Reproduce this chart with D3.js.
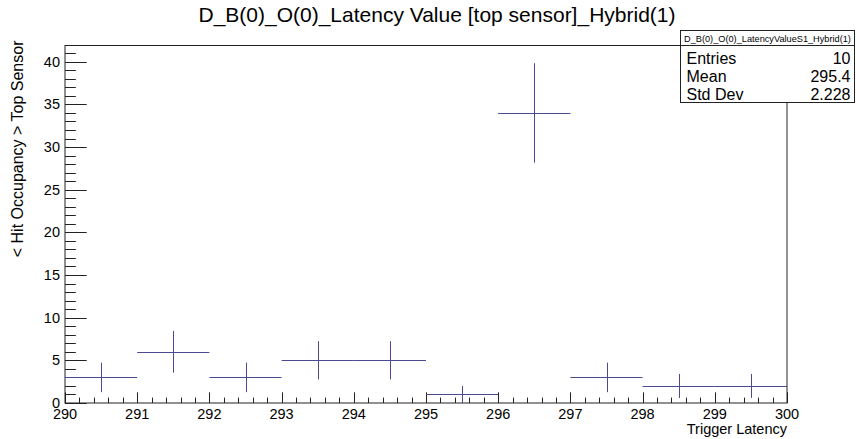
<!DOCTYPE html>
<html>
<head>
<meta charset="utf-8">
<script src="https://cdn.jsdelivr.net/npm/d3@7"></script>
<style>
html,body{margin:0;padding:0;background:#fff;}
svg{display:block;font-family:"Liberation Sans",Arial,Helvetica,sans-serif;}
</style>
</head>
<body>
<svg id="c" width="856" height="439"></svg>
<script>
const binLow = [290,291,292,293,294,295,296,297,298,299];
const binHigh = [291,292,293,294,295,296,297,298,299,300];
const values = [3,6,3,5,5,1,34,3,2,2];
const errors = [1.73,2.45,1.73,2.24,2.24,1.0,5.83,1.73,1.41,1.41];
const xTicks = [290,291,292,293,294,295,296,297,298,299,300];
const yTicks = [0,5,10,15,20,25,30,35,40];
const statsLabels = ["Entries","Mean","Std Dev"];
const statsValues = ["10","295.4","2.228"];
const titleText = "D_B(0)_O(0)_Latency Value [top sensor]_Hybrid(1)";
const statsName = "D_B(0)_O(0)_LatencyValueS1_Hybrid(1)";

const svg = d3.select("#c");
const L=65, R=787, T=45.5, B=403;
const x = d3.scaleLinear().domain([290,300]).range([L,R]);
const y = d3.scaleLinear().domain([0,41.9]).range([B,T]);
const col = "#4a4a92";

// frame
svg.append("rect").attr("x",L).attr("y",T).attr("width",R-L).attr("height",B-T)
  .attr("fill","none").attr("stroke","#222").attr("stroke-width",1);

// x ticks
const xMinor = d3.range(290,300.001,0.2);
svg.append("g").selectAll("line").data(xMinor).join("line")
  .attr("x1",d=>Math.round(x(d))+0.5).attr("x2",d=>Math.round(x(d))+0.5)
  .attr("y1",B).attr("y2",(d)=>Math.abs(d-Math.round(d))<1e-6 ? B-10.7 : B-5.4)
  .attr("stroke","#222").attr("stroke-width",1);
svg.append("g").selectAll("text").data(xTicks).join("text")
  .attr("x",d=>x(d)).attr("y",B+16).attr("text-anchor","middle")
  .attr("font-size",14.5).attr("fill","#000").text(d=>d);

// y ticks
const yMinor = d3.range(0,41.5,1);
svg.append("g").selectAll("line").data(yMinor).join("line")
  .attr("x1",L).attr("x2",d=>d%5===0 ? L+21.7 : L+10.8)
  .attr("y1",d=>Math.round(y(d))+0.5).attr("y2",d=>Math.round(y(d))+0.5)
  .attr("stroke","#222").attr("stroke-width",1);
svg.append("g").selectAll("text").data(yTicks).join("text")
  .attr("x",L-5).attr("y",d=>y(d)+5).attr("text-anchor","end")
  .attr("font-size",14.5).attr("fill","#000").text(d=>d);

// axis titles
svg.append("text").attr("x",R).attr("y",434).attr("text-anchor","end")
  .attr("font-size",14.5).text("Trigger Latency");
svg.append("text").attr("transform",`translate(23,${T-5}) rotate(-90)`).attr("text-anchor","end")
  .attr("font-size",16).text("< Hit Occupancy > Top Sensor");

// title
svg.append("text").attr("x",437).attr("y",22).attr("text-anchor","middle")
  .attr("font-size",21).text(titleText);

// histogram crosses
const g = svg.append("g").attr("stroke",col).attr("stroke-width",1);
const idx = d3.range(values.length);
g.selectAll(".h").data(idx).join("line").attr("class","h")
  .attr("x1",i=>x(binLow[i])).attr("x2",i=>x(binHigh[i]))
  .attr("y1",i=>Math.round(y(values[i]))+0.5).attr("y2",i=>Math.round(y(values[i]))+0.5);
g.selectAll(".v").data(idx).join("line").attr("class","v")
  .attr("x1",i=>Math.round(x((binLow[i]+binHigh[i])/2))+0.5).attr("x2",i=>Math.round(x((binLow[i]+binHigh[i])/2))+0.5)
  .attr("y1",i=>y(values[i]-errors[i])).attr("y2",i=>y(values[i]+errors[i]));

// stats box
const sx=680.5, sy=30.5, sw=174, sh=72;
svg.append("rect").attr("x",sx).attr("y",sy).attr("width",sw).attr("height",sh)
  .attr("fill","#fff").attr("stroke","#222").attr("stroke-width",1);
svg.append("line").attr("x1",sx).attr("x2",sx+sw).attr("y1",45.5).attr("y2",45.5)
  .attr("stroke","#222").attr("stroke-width",1);
svg.append("text").attr("x",sx+sw/2).attr("y",41.5).attr("text-anchor","middle")
  .attr("font-size",9.2).text(statsName);
const rowsY = [65,83,101];
svg.append("g").selectAll("text").data(statsLabels).join("text")
  .attr("x",sx+6).attr("y",(d,i)=>rowsY[i]-1).attr("font-size",16).text(d=>d);
svg.append("g").selectAll("text").data(statsValues).join("text")
  .attr("x",sx+sw-4).attr("y",(d,i)=>rowsY[i]-1).attr("text-anchor","end").attr("font-size",16).text(d=>d);
</script>
</body>
</html>
